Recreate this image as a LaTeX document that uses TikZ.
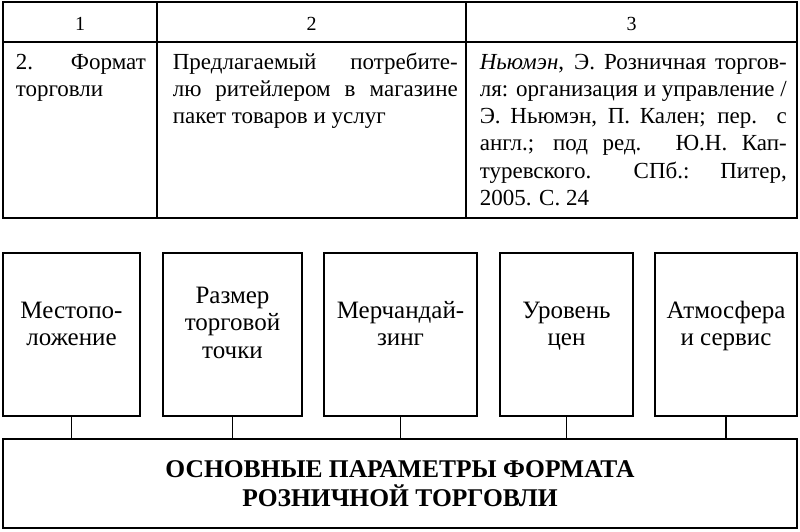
\documentclass[tikz,border=0pt]{standalone}
\usepackage{fontspec}
\setmainfont{Liberation Serif}
\begin{document}
\begin{tikzpicture}[x=1pt,y=-1pt,line width=1.6pt,
  tline/.style={line width=1.6pt,draw=black},
  cell/.style={anchor=base west,inner sep=0pt,font=\fontsize{23}{27.3}\selectfont},
  hd/.style={anchor=base,inner sep=0pt,font=\fontsize{20}{24}\selectfont},
  pbox/.style={draw,rectangle,inner sep=0pt,minimum width=#1,minimum height=163pt},
  pline/.style={anchor=base,inner sep=0pt,font=\fontsize{25}{27.5}\selectfont},
  bline/.style={anchor=base,inner sep=0pt,font=\fontsize{25.5}{30}\selectfont\bfseries},
  conn/.style={line width=1.6pt}]
\useasboundingbox (0,0) rectangle (800,531);
% table
\draw[tline] (3,2) rectangle (797,218);
\draw[tline] (3,42) -- (797,42);
\draw[tline] (157,2) -- (157,218);
\draw[tline] (466,2) -- (466,218);
\node[hd] (h1) at (80,30) {1};
\node[hd] (h2) at (311.5,30) {2};
\node[hd] (h3) at (631.5,30) {3};
% column 1
\node[cell] (c1a) at (15,69) {\makebox[130pt][s]{2. Формат}};
\node[cell] (c1b) at (15,96.3) {торговли};
% column 2
\node[cell] (c2a) at (172,69) {\makebox[285pt][s]{Предлагаемый потребите-}};
\node[cell] (c2b) at (172,96.3) {\makebox[285pt][s]{лю ритейлером в магазине}};
\node[cell] (c2c) at (172,123.6) {пакет товаров и услуг};
% column 3
\node[cell] (c3a) at (479,69) {\makebox[307pt][s]{\textit{Ньюмэн}, Э. Розничная торгов-}};
\node[cell] (c3b) at (479,96.3) {\makebox[307pt][s]{ля: организация и управление /}};
\node[cell] (c3c) at (479,123.6) {\makebox[307pt][s]{Э. Ньюмэн, П. Кален; пер. с}};
\node[cell] (c3d) at (479,150.9) {\makebox[307pt][s]{англ.; под ред. Ю.Н. Кап-}};
\node[cell] (c3e) at (479,178.2) {\makebox[307pt][s]{туревского. СПб.: Питер,}};
\node[cell] (c3f) at (479,205.5) {2005. С. 24};
% parameter boxes
\node[pbox=137pt] (b1) at (71.5,334.5) {};
\node[pbox=139pt] (b2) at (232.5,334.5) {};
\node[pbox=153pt] (b3) at (400.5,334.5) {};
\node[pbox=133pt] (b4) at (566.5,334.5) {};
\node[pbox=142pt] (b5) at (726,334.5) {};
\node[pline] (t1a) at (b1.center |- 0,318) {Местопо-};
\node[pline] (t1b) at (b1.center |- 0,345.5) {ложение};
\node[pline] (t2a) at (b2.center |- 0,303) {Размер};
\node[pline] (t2b) at (b2.center |- 0,330.5) {торговой};
\node[pline] (t2c) at (b2.center |- 0,358) {точки};
\node[pline] (t3a) at (b3.center |- 0,318) {Мерчандай-};
\node[pline] (t3b) at (b3.center |- 0,345.5) {зинг};
\node[pline] (t4a) at (b4.center |- 0,318) {Уровень};
\node[pline] (t4b) at (b4.center |- 0,345.5) {цен};
\node[pline] (t5a) at (b5.center |- 0,318) {Атмосфера};
\node[pline] (t5b) at (b5.center |- 0,345.5) {и сервис};
% main box
\node[draw,rectangle,inner sep=0pt,minimum width=794pt,minimum height=89pt] (big) at (400,483.5) {};
\node[bline] (bt1) at (400,477) {ОСНОВНЫЕ ПАРАМЕТРЫ ФОРМАТА};
\node[bline] (bt2) at (400,506) {РОЗНИЧНОЙ ТОРГОВЛИ};
% connectors
\foreach \b in {b1,b2,b3,b4,b5}
  \draw[conn] (\b.south) -- (\b.south |- big.north);
\end{tikzpicture}
\end{document}
